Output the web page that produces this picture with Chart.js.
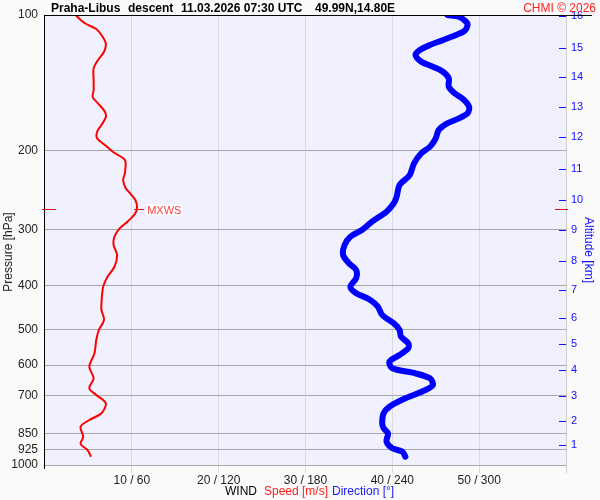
<!DOCTYPE html>
<html>
<head>
<meta charset="utf-8">
<script src="https://cdn.jsdelivr.net/npm/chart.js@4"></script>
<style>
  body { margin: 0; background: #fafafa; }
</style>
</head>
<body>
<canvas id="chart" width="600" height="500"></canvas>
<script>
// left axis pressure levels [hPa]
const pressureTicks = [100, 200, 300, 400, 500, 600, 700, 850, 925, 1000]

// right axis: altitude labels [km] and the pressure level each one sits at
const altLabels = [1, 2, 3, 4, 5, 6, 7, 8, 9, 10, 11, 12, 13, 14, 15, 16]
const altPressure = [904, 800, 701, 616, 539, 472, 408, 352, 300, 258, 220, 187, 160, 137.5, 118.4, 100.4]

// bottom axis labels: speed [m/s] / direction [deg]
const speedTicks = [10, 20, 30, 40, 50]
const dirTicks = [60, 120, 180, 240, 300]

// wind speed profile
const speedPressure = [100, 104.3, 107.4, 110.8, 115.6, 120.7, 125.9, 131.4, 139.5, 146.8,
  152.3, 157.1, 164, 168.8, 175.6, 181.7, 187.9, 194.5, 201.3, 210,
  224.7, 232.6, 242.7, 250.3, 257.7, 266.7, 275.8, 287.9, 297.9, 310.9,
  324.4, 341.5, 362.6, 381.6, 401.7, 437.1, 452.4, 476.1, 501.2, 527.5,
  564.6, 604.7, 641.7, 675.4, 698.9, 729.3, 767.4, 794.3, 822, 865.1,
  898.3, 926.2, 958.5]
const speedValues = [3.5, 4.6, 5.9, 6.5, 7.0, 6.8, 6.1, 5.6, 5.6, 5.6,
  5.5, 6.1, 6.9, 7.0, 6.5, 6.0, 6.0, 6.9, 7.8, 9.2,
  9.2, 9.0, 9.3, 9.9, 10.4, 10.6, 10.4, 9.5, 8.6, 8.0,
  7.9, 8.3, 8.0, 7.2, 6.7, 6.5, 6.5, 6.8, 6.2, 5.9,
  5.7, 5.1, 5.6, 5.1, 5.9, 7.0, 6.5, 5.1, 4.1, 4.4,
  4.1, 4.9, 5.3]

// wind direction profile
const dirPressure = [100, 100.9, 103.5, 105.3, 108.4, 110.8, 113.7, 116.6, 119.6, 122.7,
  127, 130.3, 133.7, 138.3, 144.3, 149.3, 153.9, 159.9, 165.4, 169.7,
  174.7, 180.2, 187.9, 196.2, 202.9, 213.6, 226.8, 238.7, 253.3, 262,
  273.6, 287.9, 300.4, 310.9, 324.4, 341.5, 356.2, 368.7, 384.7, 401.7,
  415.2, 428.2, 444.7, 464.2, 484.3, 501.2, 518.7, 536.5, 550.4, 569.5,
  589.3, 609.6, 623.5, 641.7, 664.2, 681.3, 710.9, 742, 767.4, 808,
  828.7, 850.4, 887.7, 918.1, 934.1, 958.5]
const dirValues = [278, 286, 291, 292, 290, 284, 275, 266, 259, 256,
  260, 268, 275, 279, 279, 283, 289, 293, 292, 286,
  277, 272, 270, 266, 260, 255, 252, 245, 243, 241,
  236, 226, 219, 211, 207, 206, 210, 215, 215, 211,
  215, 224, 230, 233, 241, 245, 246, 251, 251, 245,
  238, 240, 254, 266, 268, 263, 249, 238, 234, 233,
  234, 237, 236, 240, 247, 249]

// maximum wind marker
const mxwsPressure = 270
const mxwsSpeed = 10.5

const FONT = '"Liberation Sans", Arial, sans-serif'
Chart.defaults.font.family = FONT
Chart.defaults.font.size = 12
Chart.defaults.color = '#222'

const setTicks = (values) => (scale) => {
  scale.ticks = values.map(v => ({ value: v }))
}

function text(ctx, str, x, y, opts) {
  ctx.save()
  ctx.font = opts.font || '12px ' + FONT
  ctx.fillStyle = opts.color || '#222'
  ctx.textAlign = opts.align || 'left'
  ctx.textBaseline = 'alphabetic'
  if (opts.rotate) {
    ctx.translate(x, y)
    ctx.rotate(opts.rotate)
    ctx.fillText(str, 0, 0)
  } else {
    ctx.fillText(str, x, y)
  }
  ctx.restore()
}

const decor = {
  id: 'decor',
  beforeDraw(chart) {
    const { ctx, chartArea: a } = chart
    ctx.save()
    ctx.fillStyle = '#fafafa'
    ctx.fillRect(0, 0, chart.width, chart.height)
    ctx.fillStyle = '#f0f0ff'
    ctx.fillRect(a.left, a.top, a.right - a.left, a.bottom - a.top)
    ctx.restore()
  },
  afterDraw(chart) {
    const { ctx, chartArea: a, scales } = chart
    ctx.save()
    // frame lines
    ctx.strokeStyle = '#000'
    ctx.lineWidth = 1
    ctx.beginPath()
    ctx.moveTo(a.left - 0.5, a.top)
    ctx.lineTo(a.left - 0.5, a.bottom + 4)
    ctx.moveTo(a.left, a.top + 0.5)
    ctx.lineTo(592, a.top + 0.5)
    ctx.stroke()

    // altitude tick marks inside the plot
    ctx.strokeStyle = '#1010ff'
    ctx.beginPath()
    altPressure.forEach(p => {
      const y = Math.round(scales.yAlt.getPixelForValue(p)) + 0.5
      ctx.moveTo(a.right - 7, y)
      ctx.lineTo(a.right, y)
    })
    ctx.stroke()

    // max wind markers
    const my = Math.round(scales.y.getPixelForValue(mxwsPressure)) + 0.5
    const mx = scales.x.getPixelForValue(mxwsSpeed)
    ctx.strokeStyle = '#e01010'
    ctx.beginPath()
    ctx.moveTo(a.left - 3, my); ctx.lineTo(a.left + 11, my)
    ctx.moveTo(a.right - 11, my); ctx.lineTo(a.right + 2, my)
    ctx.moveTo(mx - 2, my); ctx.lineTo(mx + 8, my)
    ctx.stroke()
    ctx.font = '11px ' + FONT
    const w = ctx.measureText('MXWS').width
    ctx.fillStyle = '#ffffff'
    ctx.fillRect(mx + 10, my - 5, w + 2, 11)
    ctx.restore()
    text(ctx, 'MXWS', mx + 11, my + 4, { font: '11px ' + FONT, color: '#ff4040' })

    // header
    const bold = 'bold 12px ' + FONT
    text(ctx, 'Praha-Libus', 51, 12, { font: bold, color: '#000' })
    text(ctx, 'descent', 128, 12, { font: bold, color: '#000' })
    text(ctx, '11.03.2026 07:30 UTC', 181, 12, { font: bold, color: '#000' })
    text(ctx, '49.99N,14.80E', 315, 12, { font: bold, color: '#000' })
    text(ctx, 'CHMI © 2026', 596, 12, { color: '#ff2020', align: 'right' })

    // axis titles
    text(ctx, 'Pressure [hPa]', 12, 252, { rotate: -Math.PI / 2, align: 'center' })
    text(ctx, 'Altitude [km]', 585, 250, { rotate: Math.PI / 2, align: 'center', color: '#1010ff' })
    text(ctx, 'WIND', 225, 495, { color: '#000' })
    text(ctx, 'Speed [m/s]', 264, 495, { color: '#ff2020' })
    text(ctx, 'Direction [°]', 332, 495, { color: '#2020ff' })
  }
}

new Chart(document.getElementById('chart'), {
  type: 'scatter',
  data: {
    datasets: [
      {
        label: 'Direction',
        data: dirPressure.map((p, i) => ({ x: dirValues[i], y: p })),
        xAxisID: 'x2',
        yAxisID: 'y',
        showLine: true,
        borderColor: '#0000ff',
        borderWidth: 6,
        borderCapStyle: 'round',
        borderJoinStyle: 'round',
        tension: 0.3,
        pointRadius: 0
      },
      {
        label: 'Speed',
        data: speedPressure.map((p, i) => ({ x: speedValues[i], y: p })),
        xAxisID: 'x',
        yAxisID: 'y',
        showLine: true,
        borderColor: '#ff0000',
        borderWidth: 2,
        tension: 0.3,
        pointRadius: 0
      }
    ]
  },
  options: {
    responsive: false,
    animation: false,
    layout: { padding: { top: 15, left: 0, right: 0, bottom: 0 } },
    plugins: { legend: { display: false }, tooltip: { enabled: false } },
    scales: {
      x: {
        type: 'linear',
        position: 'bottom',
        min: 0,
        max: 60,
        afterBuildTicks: setTicks([0, 10, 20, 30, 40, 50, 60]),
        afterFit: (s) => { s.height = 35 },
        ticks: {
          autoSkip: false,
          maxRotation: 0,
          padding: 0,
          color: '#222',
          callback: (v) => {
            const i = speedTicks.indexOf(v)
            return i >= 0 ? `${v} / ${dirTicks[i]}` : ''
          }
        },
        grid: {
          color: (c) => c.tick.value === 0 ? 'rgba(0,0,0,0)' : (c.tick.value === 60 ? '#cccccc' : '#dadada'),
          drawTicks: true,
          tickLength: 8
        },
        border: { display: false }
      },
      x2: {
        type: 'linear',
        display: false,
        min: 0,
        max: 360
      },
      y: {
        type: 'logarithmic',
        position: 'left',
        min: 100,
        max: 1000,
        reverse: true,
        afterBuildTicks: setTicks(pressureTicks),
        afterFit: (s) => { s.width = 45 },
        ticks: {
          autoSkip: false,
          padding: 7,
          color: '#222',
          callback: (v) => String(v)
        },
        grid: { color: '#a8a8a8', drawTicks: false },
        border: { display: false }
      },
      yAlt: {
        type: 'logarithmic',
        position: 'right',
        min: 100,
        max: 1000,
        reverse: true,
        afterBuildTicks: setTicks(altPressure),
        afterFit: (s) => { s.width = 34 },
        ticks: {
          autoSkip: false,
          padding: 5,
          crossAlign: 'near',
          color: '#1010ff',
          font: { size: 11 },
          callback: (v, i) => String(altLabels[i])
        },
        grid: { display: false, drawTicks: false, tickLength: 0 },
        border: { display: false }
      }
    }
  },
  plugins: [decor]
})
</script>
</body>
</html>
